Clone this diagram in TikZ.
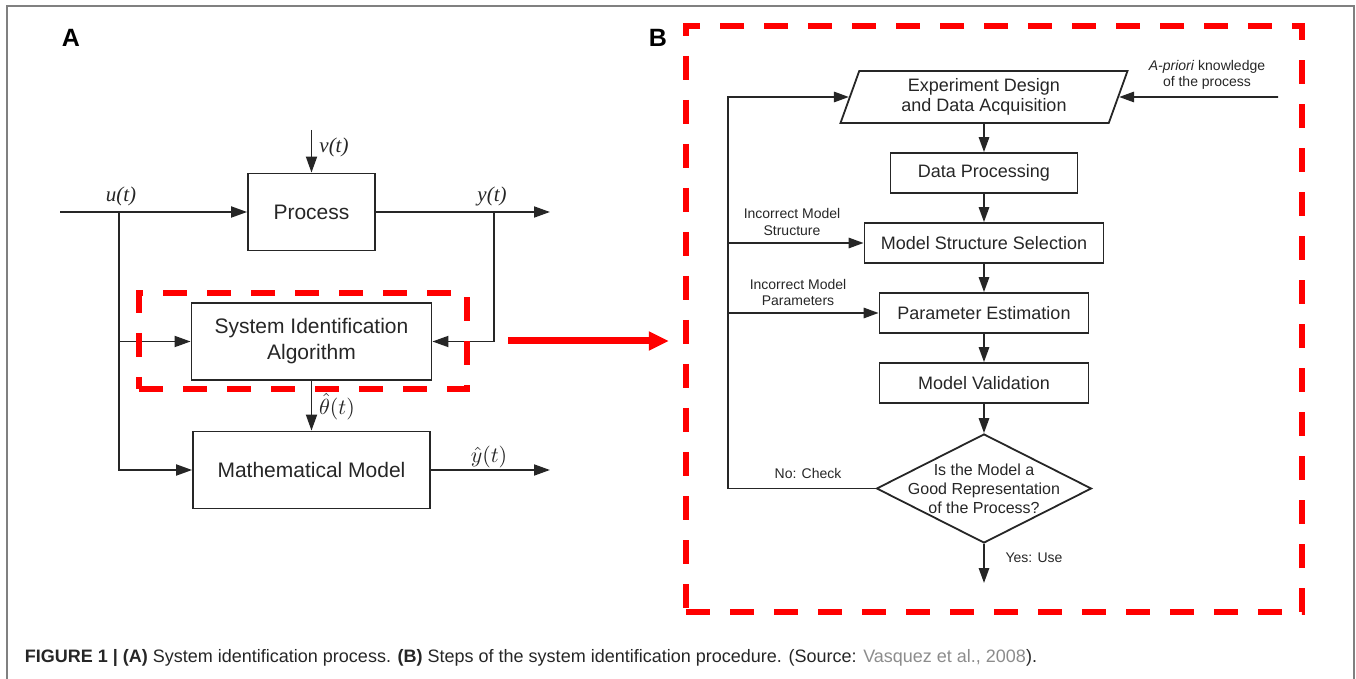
\documentclass[tikz,border=0pt]{standalone}
\usepackage{fontspec}
\setmainfont{Liberation Sans}
\newfontfamily\serifit{Liberation Serif}
\usetikzlibrary{arrows.meta,shapes.geometric,calc}
\definecolor{framegr}{gray}{0.5}
\definecolor{citegr}{gray}{0.55}

\begin{document}
\begin{tikzpicture}[x=0.5pt, y=-0.5pt, color=black!85, line width=0.9pt,
    >={Triangle[length=8pt,width=5.5pt]},
    blk/.style={draw, minimum width=#1, minimum height=38.5pt, inner sep=0pt, align=center,
      font=\fontsize{10.5}{13}\selectfont},
    fc/.style={draw, minimum width=#1, minimum height=20pt, inner sep=0pt,
      font=\fontsize{9}{11}\selectfont},
    fl/.style={->, >={Triangle[length=7.5pt,width=5.2pt]}},
    sm/.style={font=\fontsize{7}{8.3}\selectfont, align=center, inner sep=0pt},
    mvar/.style={font=\fontsize{10.5}{12}\serifit\itshape, inner sep=0pt},
    hl/.style={draw=red, line width=3.2pt, dash pattern=on 12pt off 10pt}]
  \useasboundingbox (0,0) rectangle (1356,679);
  \draw[framegr, line width=0.75pt] (7,679) -- (7,6) -- (1354,6) -- (1354,679);

  % panel A
  \node[font=\fontsize{12.5}{14}\selectfont\bfseries, text=black] (pa) at (71,38) {A};
  \node[blk=63.5pt] (proc) at (311.5,212) {Process};
  \node[blk=120pt] (sia) at (311.5,341.5) {System Identification\\Algorithm};
  \node[blk=118.5pt] (mm) at (311.5,470) {Mathematical Model};
  \coordinate (uin) at (60,212);
  \coordinate (ubr) at (119,212);
  \coordinate (ybr) at (494,212);
  \coordinate (yout) at (550,212);
  \coordinate (vin) at (311.5,130);
  \node[mvar] (ul) at (121,196) {u(t)};
  \node[mvar] (yl) at (492,196) {y(t)};
  \node[mvar] (vl) at (334,147) {v(t)};
  \node[font=\fontsize{10.5}{12}\selectfont, inner sep=0pt] (thl) at (337,407) {$\hat{\theta}(t)$};
  \node[font=\fontsize{10.5}{12}\selectfont, inner sep=0pt] (yhl) at (489,457) {$\hat{y}(t)$};
  \draw[->] (uin) -- (proc);
  \draw[->] (vin) -- (proc);
  \draw[->] (proc) -- (yout);
  \draw[->] (ubr) |- (mm);
  \draw[->] (ubr |- sia) -- (sia);
  \draw[->] (ybr) |- (sia);
  \draw[->] (sia) -- (mm);
  \draw[->] (mm) -- (mm -| yout);

  % highlight and link
  \node[hl, minimum width=164pt, minimum height=48pt] (hlbox) at (303,341) {};
  \node[hl, minimum width=308pt, minimum height=293pt] (bbox) at (994,319) {};
  \draw[red, line width=3.5pt, -{Triangle[length=10pt,width=9pt]}]
    ([xshift=19pt]hlbox.east) -- ($(hlbox.east -| bbox.west)+(-14,0)$);

  % panel B
  \node[font=\fontsize{12.5}{14}\selectfont\bfseries, text=black] (pb) at (658,38) {B};
  \node[draw, trapezium, trapezium left angle=63, trapezium right angle=117,
    trapezium stretches body, minimum width=143.5pt, minimum height=26pt, inner sep=0pt,
    align=center, font=\fontsize{9}{10}\selectfont] (exp) at (984,97)
    {Experiment Design\\and Data Acquisition};
  \node[fc=93.5pt] (dp) at (984,173) {Data Processing};
  \node[fc=119.5pt] (mss) at (984,243) {Model Structure Selection};
  \node[fc=104.5pt] (pe) at (984,313) {Parameter Estimation};
  \node[fc=104.5pt] (mv) at (984,383) {Model Validation};
  \node[draw, diamond, minimum width=107.5pt, minimum height=54.5pt, inner sep=0pt,
    label={[font=\fontsize{8}{9.5}\selectfont, align=center]center:Is the Model a\\Good Representation\\of the Process?}]
    (dec) at (984,488.5) {};
  \coordinate (apr) at (1278,97);
  \coordinate (fb) at (728,488.5);
  \coordinate (yes) at (984,583);
  \node[sm] (aprl) at (1207,75) {\textit{A-priori} knowledge\\of the process};
  \node[sm] (isl) at (792,222) {Incorrect Model\\Structure};
  \node[sm] (ipl) at (798,292.5) {Incorrect Model\\Parameters};
  \node[sm] (nol) at (808,473) {No: Check};
  \node[sm] (yesl) at (1034,558) {Yes: Use};
  \draw[fl] (exp) -- (dp);
  \draw[fl] (dp) -- (mss);
  \draw[fl] (mss) -- (pe);
  \draw[fl] (pe) -- (mv);
  \draw[fl] (mv) -- (dec);
  \draw[fl] (dec) -- (yes);
  \draw[fl] (apr) -- (exp.east);
  \draw[fl] (dec.west) -- (fb) |- (exp.west);
  \draw[fl] (fb |- mss) -- (mss);
  \draw[fl] (fb |- pe) -- (pe);

  % caption
  \node[anchor=west, inner sep=0pt, text=black!85, font=\fontsize{9}{11}\selectfont] (cap) at (24,658)
    {\textbf{FIGURE 1 | (A)} System identification process. \textbf{(B)} Steps of the system identification procedure. (Source: \textcolor{citegr}{Vasquez et al., 2008}).};
\end{tikzpicture}
\end{document}
